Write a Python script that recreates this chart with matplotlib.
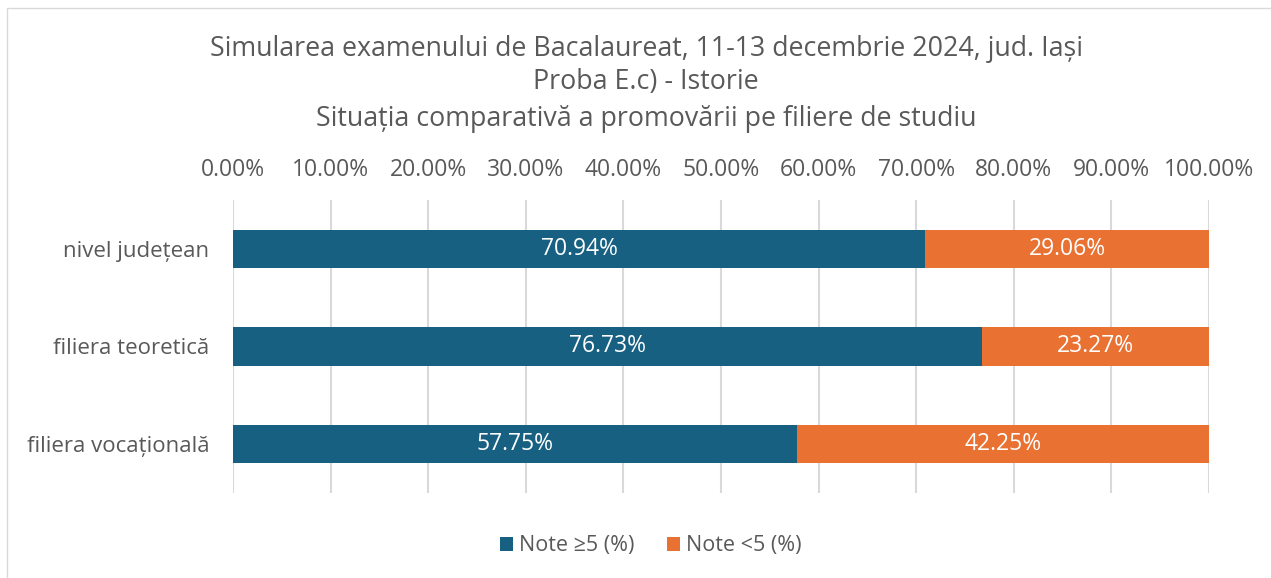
import numpy as np
import matplotlib
matplotlib.use("Agg")
import matplotlib.pyplot as plt
from matplotlib.patches import Rectangle

categories = ["nivel județean", "filiera teoretică", "filiera vocațională"]
promovati = [70.94, 76.73, 57.75]
nepromovati = [29.06, 23.27, 42.25]
series_names = ["Note ≥5 (%)", "Note <5 (%)"]
ticks = [0, 10, 20, 30, 40, 50, 60, 70, 80, 90, 100]
title_lines = ["Simularea examenului de Bacalaureat, 11-13 decembrie 2024, jud. Iași",
               "Proba E.c) - Istorie",
               "Situația comparativă a promovării pe filiere de studiu"]

blue = "#176082"
orange = "#E97132"
gray = "#595959"

plt.rcParams['font.family'] = ['Open Sans', 'DejaVu Sans']

fig = plt.figure(figsize=(12.71, 5.78), dpi=100)
ax = fig.add_axes([233/1271, 1-493/578, (1209-233)/1271, 293/578])

y = np.arange(len(categories))
b1 = ax.barh(y, promovati, height=0.39, color=blue, label=series_names[0])
b2 = ax.barh(y, nepromovati, left=promovati, height=0.39, color=orange, label=series_names[1])

for bars, vals in [(b1, promovati), (b2, nepromovati)]:
    for r, v in zip(bars, vals):
        ax.text(r.get_x() + r.get_width()/2, r.get_y() + r.get_height()/2, "%.2f%%" % v,
                ha="center", va="center", color="white", fontsize=16.5)

ax.set_xlim(0, 100)
ax.set_ylim(2.5, -0.5)
ax.set_xticks(ticks)
ax.set_xticklabels(["%.2f%%" % t for t in ticks])
ax.xaxis.tick_top()
ax.tick_params(axis="x", length=0, pad=13, labelsize=16.5, labelcolor=gray)
ax.set_yticks(y)
ax.set_yticklabels(categories)
ax.tick_params(axis="y", length=0, pad=17, labelsize=16, labelcolor=gray)
ax.grid(axis="x", color="#d9d9d9", linewidth=1.5)
ax.set_axisbelow(True)
for s in ax.spines.values():
    s.set_visible(False)

ty = [49, 82, 119]
for line, yy in zip(title_lines, ty):
    fig.text(646/1271, 1-yy/578, line, ha="center", va="center", fontsize=19.3, color=gray)

fig.legend(handles=[b1, b2], loc="center", bbox_to_anchor=(651/1271, 1-546/578), ncol=2,
           frameon=False, fontsize=15.5, labelcolor=gray, handlelength=0.6, handleheight=0.6,
           handletextpad=0.3, columnspacing=1.5)

fig.add_artist(Rectangle((7/1271, -0.1), 1.1, 1.1 - 8/578, transform=fig.transFigure,
                         fill=False, edgecolor="#d9d9d9", linewidth=1))

fig.savefig("out.png", dpi=100)
